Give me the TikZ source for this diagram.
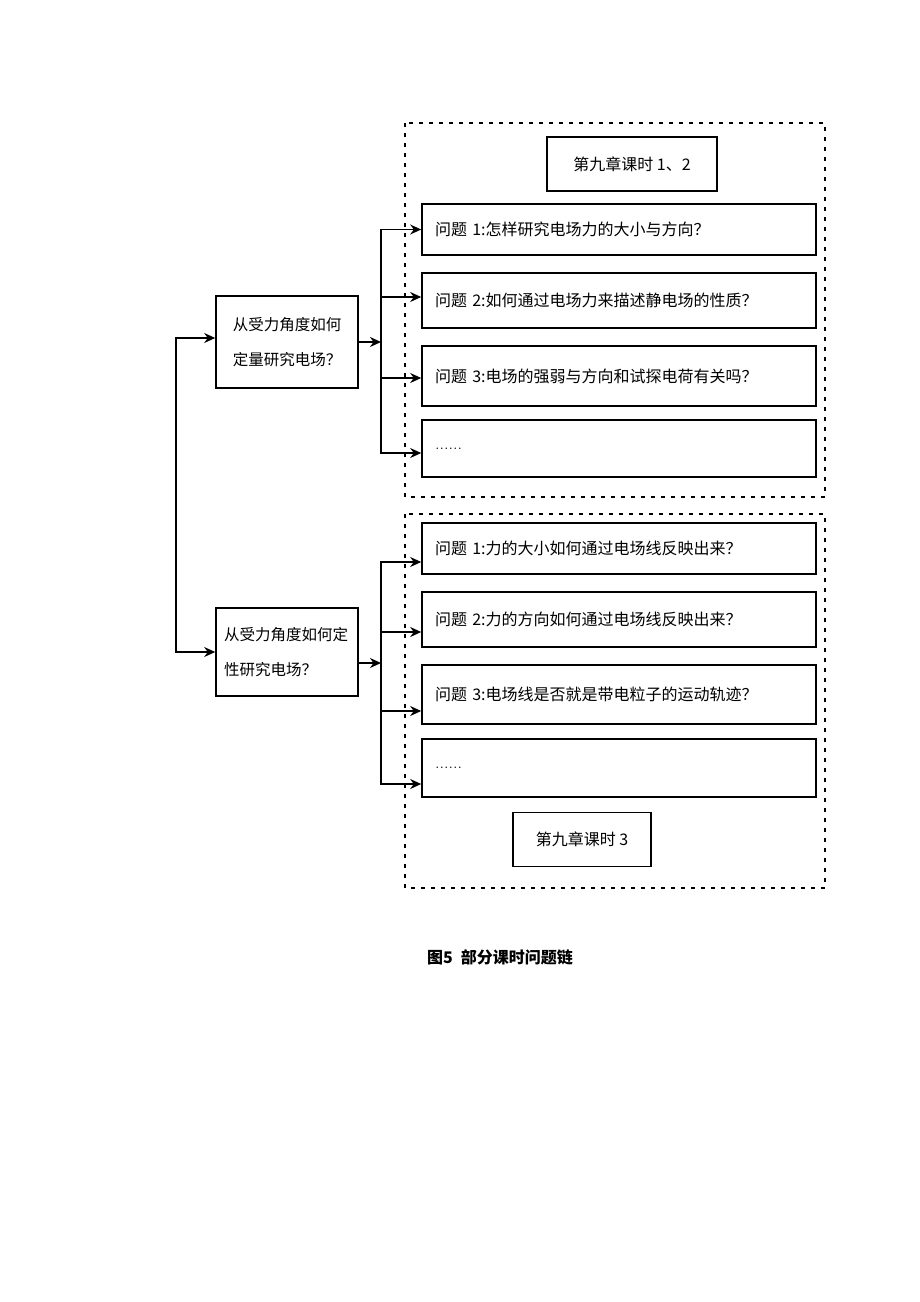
\documentclass[tikz,border=0pt]{standalone}
\usepackage{fontspec}
\newfontfamily\cjk{Noto Sans CJK SC}
\usetikzlibrary{arrows.meta}
\tikzset{
    >={Stealth[length=11pt,width=10pt]},
    box/.style={draw, line width=1.6pt, inner sep=0pt, font=\cjk\fontsize{16}{18}\selectfont},
    qbox/.style={box, text width=368pt, inner xsep=13pt, minimum height=#1, align=left},
    qbox/.default=50pt,
    leftbox/.style={box, text width=126pt, inner xsep=8pt, minimum height=#1, font=\cjk\fontsize{15.5}{35}\selectfont},
    leftbox/.default=90pt,
    lessonbox/.style={box, minimum width=#1, minimum height=54pt},
    lessonbox/.default=150pt,
    dashbox/.style={line width=1.5pt, dash pattern=on 4pt off 6pt},
    arr/.style={line width=1.5pt, ->},
}
\begin{document}
\begin{tikzpicture}[x=1pt,y=-1pt]
    \useasboundingbox (0,0) rectangle (920,1302);
    \draw[dashbox] (405,123) rectangle (825,497);
    \draw[dashbox] (405,514) rectangle (825,888);

    \node[lessonbox=170pt] (ks12) at (632,164) {第九章课时 1、2};
    \node[lessonbox=138pt] (ks3) at (582,839.5) {第九章课时 3};

    \node[leftbox=92pt, align=center] (dl) at (287,342) {从受力角度如何\\定量研究电场？};
    \node[leftbox=88pt, align=left] (dx) at (287,652) {从受力角度如何定\\性研究电场？};

    \foreach \n/\y/\h/\t in {
        q11/229.5/51/{问题 1:怎样研究电场力的大小与方向？},
        q12/300.5/55/{问题 2:如何通过电场力来描述静电场的性质？},
        q13/376/60/{问题 3:电场的强弱与方向和试探电荷有关吗？},
        q14/448.5/57/{\rmfamily\fontsize{18}{18}\selectfont ......},
        q21/548.5/51/{问题 1:力的大小如何通过电场线反映出来？},
        q22/619.5/55/{问题 2:力的方向如何通过电场线反映出来？},
        q23/694.5/59/{问题 3:电场线是否就是带电粒子的运动轨迹？},
        q24/768/58/{\rmfamily\fontsize{18}{18}\selectfont ......}}
        {\node[qbox=\h pt] (\n) at (619,\y) {\t};}

    \coordinate (tr) at (176,652);
    \draw[arr, <->] ([yshift=4pt]dl.west) -| (tr) |- (dx.west);

    \coordinate (b1) at (381,342);
    \draw[arr] (dl.east) -- (b1);
    \foreach \n/\d in {q11/0, q12/3.5, q13/-2, q14/-4.5}
        {\draw[arr] (b1) |- ([yshift=\d pt]\n.west);}

    \coordinate (b2) at (381,663);
    \draw[arr] ([yshift=-11pt]dx.east) -- (b2);
    \foreach \n/\d in {q21/-13.5, q22/-12.5, q23/-16.5, q24/-16}
        {\draw[arr] (b2) |- ([yshift=\d pt]\n.west);}

    \node[font=\cjk\bfseries\fontsize{16}{16}\selectfont] (cap) at (500,957) {图5\hspace{8pt}部分课时问题链};
\end{tikzpicture}
\end{document}
